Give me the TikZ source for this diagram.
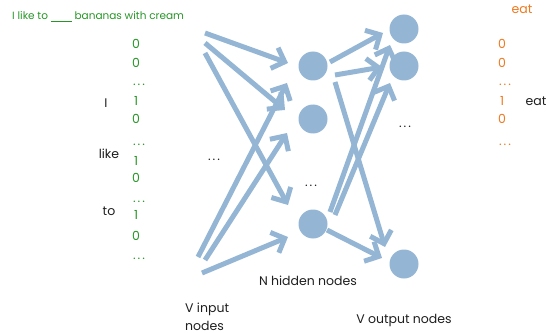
\documentclass[tikz,border=0pt]{standalone}
\usepackage{fontspec}
\setmainfont{Poppins}
\usetikzlibrary{arrows.meta}
\definecolor{netblue}{RGB}{148,182,212}
\definecolor{wordgreen}{RGB}{38,150,38}
\definecolor{wordorange}{RGB}{240,120,30}
\definecolor{labelgray}{RGB}{30,30,30}
\newcommand{\spaceddots}{.\kern2pt.\kern2pt.}
\newcommand{\blankword}{\rule[-1.5pt]{21pt}{0.9pt}}
\begin{document}
\begin{tikzpicture}[x=1pt,y=-1pt,
  unit/.style={circle, fill=netblue, minimum size=29pt, inner sep=0pt},
  link/.style={draw=netblue, line width=5pt, -{Straight Barb[length=11pt,width=22pt]}},
  txt/.style={anchor=base, inner sep=0pt, font=\fontsize{12.5}{15}\selectfont, text=labelgray},
  bit/.style={txt, text=wordgreen},
  obit/.style={txt, text=wordorange},
]
\useasboundingbox (0,0) rectangle (548,334);

% sentence and one-hot input column
\node[bit, anchor=base west, font=\fontsize{10.5}{12}\selectfont] (sent) at (12,20) {I like to \blankword{} bananas with cream};
\node[bit] (b1) at (136,49) {0};
\node[bit] (b2) at (136,68) {0};
\node[bit] (b3) at (139,86) {\spaceddots};
\node[bit] (b4) at (136,106) {1};
\node[bit] (b5) at (136,123) {0};
\node[bit] (b6) at (139,145) {\spaceddots};
\node[bit] (b7) at (136,165) {1};
\node[bit] (b8) at (136,182) {0};
\node[bit] (b9) at (139,202) {\spaceddots};
\node[bit] (b10) at (136,219) {1};
\node[bit] (b11) at (136,240) {0};
\node[bit] (b12) at (139,259) {\spaceddots};

\node[txt] (wI) at (106,107) {I};
\node[txt] (wlike) at (109,158) {like};
\node[txt] (wto) at (109,215) {to};
\node[txt] (dotsin) at (214,160) {\spaceddots};

% output column
\node[obit] (target) at (522,14) {eat};
\node[obit] (c1) at (502,49) {0};
\node[obit] (c2) at (502,68) {0};
\node[obit] (c3) at (505,86) {\spaceddots};
\node[obit] (c4) at (502,106) {1};
\node[obit] (c5) at (502,123) {0};
\node[obit] (c6) at (505,145) {\spaceddots};
\node[txt] (weat) at (536,106) {eat};

% hidden and output units
\node[unit] (h1) at (313,66) {};
\node[unit] (h2) at (313,119) {};
\node[unit] (h3) at (313,224) {};
\node[unit] (o1) at (404,29) {};
\node[unit] (o2) at (404,66) {};
\node[unit] (o3) at (404,264) {};
\node[txt] (dotsh) at (311,186) {\spaceddots};
\node[txt] (dotso) at (405,127) {\spaceddots};

% layer captions
\node[txt, anchor=base west] (capin1) at (185,312) {V input};
\node[txt, anchor=base west] (capin2) at (185,330) {nodes};
\node[txt] (caph) at (308,285) {N hidden nodes};
\node[txt] (capo) at (404,323) {V output nodes};

% input -> hidden
\coordinate (i1) at (205,33);
\coordinate (i2) at (205,43);
\coordinate (i3) at (205,53);
\coordinate (i4) at (198,257);
\coordinate (i5) at (205,260);
\coordinate (i6) at (202,273);
\draw[link] (i1) -- ([shift={(-25,-3)}]h1.center);
\draw[link] (i2) -- ([shift={(-28,-9)}]h2.center);
\draw[link] (i3) -- ([shift={(-25,-19)}]h3.center);
\draw[link] (i4) -- ([shift={(-26,17)}]h1.center);
\draw[link] (i5) -- ([shift={(-26,14)}]h2.center);
\draw[link] (i6) -- ([shift={(-25,13)}]h3.center);

% hidden -> output
\draw[link] ([shift={(17,-4)}]h1.center) -- ([shift={(-21,4)}]o1.center);
\draw[link] ([shift={(22,9)}]h1.center) -- ([shift={(-22,1)}]o2.center);
\draw[link] ([shift={(22,16)}]h1.center) -- ([shift={(-19,-17)}]o3.center);
\draw[link] ([shift={(17,-12)}]h3.center) -- ([shift={(-14,16)}]o1.center);
\draw[link] ([shift={(22,-9)}]h3.center) -- ([shift={(-14,17)}]o2.center);
\draw[link] ([shift={(14,6)}]h3.center) -- ([shift={(-22,-6)}]o3.center);
\end{tikzpicture}
\end{document}
